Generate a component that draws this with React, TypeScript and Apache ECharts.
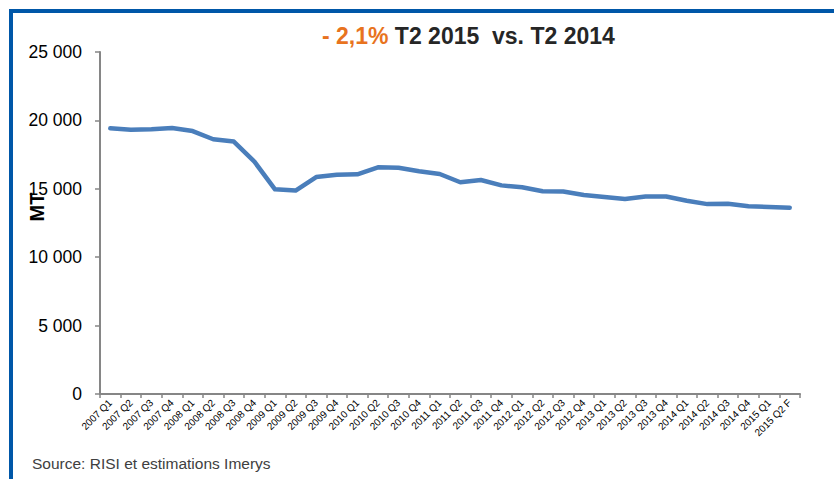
import React, { useEffect, useRef } from "react";
import * as echarts from "echarts";

const categories: string[] = [
  "2007 Q1", "2007 Q2", "2007 Q3", "2007 Q4",
  "2008 Q1", "2008 Q2", "2008 Q3", "2008 Q4",
  "2009 Q1", "2009 Q2", "2009 Q3", "2009 Q4",
  "2010 Q1", "2010 Q2", "2010 Q3", "2010 Q4",
  "2011 Q1", "2011 Q2", "2011 Q3", "2011 Q4",
  "2012 Q1", "2012 Q2", "2012 Q3", "2012 Q4",
  "2013 Q1", "2013 Q2", "2013 Q3", "2013 Q4",
  "2014 Q1", "2014 Q2", "2014 Q3", "2014 Q4",
  "2015 Q1", "2015 Q2 F",
];

const volumes: number[] = [
  19420, 19320, 19360, 19450,
  19220, 18620, 18450, 16980,
  14960, 14870, 15860, 16030,
  16060, 16570, 16540, 16280,
  16080, 15480, 15640, 15250,
  15110, 14820, 14800, 14550,
  14400, 14260, 14440, 14440,
  14130, 13880, 13900, 13720,
  13670, 13620,
];

const yTicks: number[] = [0, 5000, 10000, 15000, 20000, 25000];

const titleHighlight = "- 2,1%";
const titleRest = " T2 2015  vs. T2 2014";
const yAxisName = "MT";
const sourceText = "Source: RISI et estimations Imerys";

const FONT = "'Liberation Sans', Arial, sans-serif";

function fmt(v: number): string {
  return String(v).replace(/\B(?=(\d{3})+(?!\d))/g, " ");
}

export default function App() {
  const ref = useRef<HTMLDivElement>(null);
  useEffect(() => {
    if (!ref.current) return;
    const chart = echarts.init(ref.current, null, { renderer: "svg" });
    chart.setOption({
      animation: false,
      backgroundColor: "#ffffff",
      textStyle: { fontFamily: FONT },
      title: {
        text: `{o|${titleHighlight}}{d|${titleRest}}`,
        left: 322,
        top: 24,
        padding: 0,
        textStyle: {
          rich: {
            o: { fontSize: 23, fontWeight: "bold", color: "#E8731E", fontFamily: FONT },
            d: { fontSize: 23, fontWeight: "bold", color: "#262626", fontFamily: FONT },
          },
        },
      },
      graphic: [
        {
          type: "rect",
          shape: { x: 11, y: 11, width: 1000, height: 1000 },
          style: { fill: "none", stroke: "#0057A8", lineWidth: 4 },
          silent: true,
        },
        {
          type: "text",
          x: 37,
          y: 207,
          rotation: Math.PI / 2,
          style: {
            text: yAxisName,
            fontSize: 20,
            fontWeight: "bold",
            fill: "#000000",
            fontFamily: FONT,
            align: "center",
            verticalAlign: "middle",
          },
        },
        {
          type: "text",
          x: 32,
          y: 463,
          style: {
            text: sourceText,
            fontSize: 15.5,
            fill: "#404040",
            fontFamily: FONT,
            align: "left",
            verticalAlign: "middle",
          },
        },
      ],
      grid: { left: 100, right: 34, top: 52, bottom: 85, containLabel: false },
      xAxis: {
        type: "category",
        data: categories,
        boundaryGap: true,
        axisLine: { show: true, lineStyle: { color: "#868686", width: 2 } },
        axisTick: { show: true, alignWithLabel: false, length: 4, lineStyle: { color: "#868686", width: 1.5 } },
        axisLabel: {
          interval: 0,
          rotate: 45,
          fontSize: 10,
          color: "#000000",
          fontFamily: FONT,
          margin: 7,
        },
        splitLine: { show: false },
      },
      yAxis: {
        type: "value",
        min: yTicks[0],
        max: yTicks[yTicks.length - 1],
        interval: yTicks[1] - yTicks[0],
        axisLine: { show: true, lineStyle: { color: "#868686", width: 2 } },
        axisTick: { show: true, length: 5, lineStyle: { color: "#868686", width: 1.5 } },
        axisLabel: {
          fontSize: 17.5,
          color: "#000000",
          fontFamily: FONT,
          margin: 18,
          formatter: (v: number) => fmt(v),
        },
        splitLine: { show: false },
      },
      series: [
        {
          type: "line",
          data: volumes,
          showSymbol: false,
          symbol: "none",
          lineStyle: { color: "#4A7EBB", width: 4.5, cap: "round", join: "round" },
        },
      ],
    });
    return () => chart.dispose();
  }, []);
  return (
    <div
      ref={ref}
      style={{ position: "fixed", left: 0, top: 0, width: 834, height: 479, background: "#fff" }}
    />
  );
}
